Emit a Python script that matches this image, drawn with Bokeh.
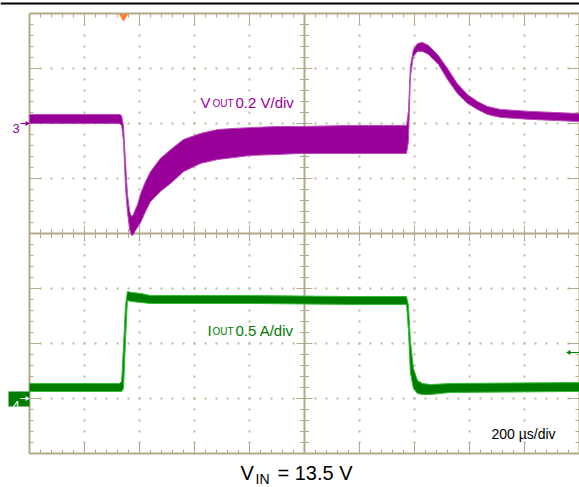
import numpy as np
from bokeh.plotting import figure
from bokeh.models import Range1d, Label
from bokeh.embed import file_html
from bokeh.resources import INLINE

# ---------------- data ----------------
# time in microseconds from the left edge of the screen (200 us/div, 10 div)
vout_t = [0, 327, 335, 342, 349, 356, 364, 371, 378, 385, 393, 404, 422, 440, 476,
          513, 560, 622, 684, 742, 804, 895, 985, 1167, 1371, 1378, 1385, 1396, 1411,
          1429, 1451, 1487, 1520, 1556, 1593, 1629, 1665, 1713, 1822, 2000]
# VOUT (AC, mV relative to the channel-3 marker), upper / lower edge of the noisy trace
vout_hi = [33, 33, 29, -11, -138, -255, -320, -338, -331, -313, -295, -255, -211, -175,
           -127, -95, -58, -36, -22, -18, -15, -11, -11, -7, -7, 44, 207, 269, 291, 295,
           284, 247, 200, 145, 105, 80, 62, 51, 44, 36]
vout_lo = [0, 0, -7, -65, -229, -320, -385, -407, -404, -389, -378, -360, -320, -284,
           -247, -218, -175, -145, -131, -124, -116, -113, -109, -109, -109, -65, 171,
           244, 262, 262, 251, 215, 160, 109, 73, 51, 33, 22, 15, 7]

iout_t = [0, 327, 335, 342, 349, 356, 371, 404, 440, 804, 1167, 1371, 1378, 1385,
          1396, 1411, 1429, 1458, 1531, 2000]
# IOUT (A relative to the channel-4 marker), upper / lower edge of the trace
iout_hi = [0.136, 0.136, 0.155, 0.482, 0.845, 0.973, 0.964, 0.955, 0.936, 0.936,
           0.927, 0.927, 0.845, 0.527, 0.273, 0.164, 0.136, 0.127, 0.136, 0.145]
iout_lo = [0.064, 0.064, 0.064, 0.091, 0.527, 0.891, 0.882, 0.873, 0.864, 0.864,
           0.855, 0.855, 0.618, 0.236, 0.091, 0.045, 0.036, 0.036, 0.055, 0.064]

time_per_div = 200      # us/div
vout_per_div = 200      # mV/div
iout_per_div = 0.5      # A/div
n_xdiv, n_ydiv = 10, 8
ch3_pos, ch4_pos = 6, 1  # marker positions in divisions
trig_t = 342             # trigger position (us)
trig_level = 0.418       # ch4 trigger level (A)

texts_vout = ["V", "OUT", "0.2 V/div"]
texts_iout = ["I", "OUT", "0.5 A/div"]
text_time = "200 \u00b5s/div"
texts_vin = ["V", "IN", "= 13.5 V"]

# ---------------- layout ----------------
W, H = 579, 487
OFF = 0
GX0, GY0, DIVPX = 29, 453, 55      # px of grid left/bottom, px per div
PURPLE, PURPLE_E = "#990099", "#b64cb6"
GREEN, GREEN_E = "#007d00", "#2fbf2f"
TAN, TAN_DOT = "#b2aa8a", "#bfb79c"
FONT = "Liberation Sans"

us_per_px = time_per_div / DIVPX
div_per_px = 1.0 / DIVPX

def wt(wx):  # picture x -> time
    return (wx - GX0) * us_per_px

def wd(wy):  # picture y -> divisions
    return (GY0 - wy) * div_per_px

x0, x1 = wt(OFF), wt(OFF + W)
y0, y1 = wd(OFF + H), wd(OFF)

p = figure(width=W, height=H, x_range=Range1d(x0, x1), y_range=Range1d(y0, y1),
           output_backend="svg", toolbar_location=None, min_border=0,
           x_axis_type=None, y_axis_type=None)
p.outline_line_color = None
p.background_fill_color = "white"
p.border_fill_color = "white"
p.extra_y_ranges = {
    "ch3": Range1d((y0 - ch3_pos) * vout_per_div, (y1 - ch3_pos) * vout_per_div),
    "ch4": Range1d((y0 - ch4_pos) * iout_per_div, (y1 - ch4_pos) * iout_per_div),
}

T_END = n_xdiv * time_per_div
minor_t = np.arange(0, T_END + 1, time_per_div / 5)
minor_d = np.arange(0, n_ydiv + 1e-9, 0.2)
maj_t = np.arange(time_per_div, T_END, time_per_div)
maj_d = np.arange(1, n_ydiv)
ct, cd = T_END / 2, n_ydiv / 2

# top black rule
p.segment([x0], [wd(3)], [x1], [wd(3)], line_color="black", line_width=2)

# dotted grid
dx, dy = [], []
for t in maj_t:
    if t == ct:
        continue
    for d in minor_d[1:-1]:
        dx.append(t); dy.append(d)
for d in maj_d:
    if d == cd:
        continue
    for t in minor_t[1:-1]:
        dx.append(t); dy.append(d)
p.scatter(dx, dy, marker="square", size=2, fill_color=TAN_DOT, line_color=None)

# ticks
sx0, sy0, sx1, sy1 = [], [], [], []
def is_major_d(d):
    return abs(d - round(d)) < 1e-6
def is_major_t(t):
    return abs(t / time_per_div - round(t / time_per_div)) < 1e-6

for d in minor_d[1:-1]:
    L = (11 if is_major_d(d) else 4) * us_per_px
    sx0 += [0, T_END]; sx1 += [L, T_END - L]; sy0 += [d, d]; sy1 += [d, d]
    Lc = (8 if is_major_d(d) else 4.5) * us_per_px
    sx0.append(ct - Lc); sx1.append(ct + Lc); sy0.append(d); sy1.append(d)
for t in minor_t[1:-1]:
    L = (11 if is_major_t(t) else 4) * div_per_px
    sx0 += [t, t]; sx1 += [t, t]; sy0 += [n_ydiv, 0]; sy1 += [n_ydiv - L, L]
    Lc = (8 if is_major_t(t) else 4.5) * div_per_px
    sx0.append(t); sx1.append(t); sy0.append(cd - Lc); sy1.append(cd + Lc)
p.segment(sx0, sy0, sx1, sy1, line_color=TAN, line_width=1)

# borders and centre axes
p.segment([0, T_END, 0, 0, ct, 0], [0, 0, 0, n_ydiv, 0, cd],
          [0, T_END, T_END, T_END, ct, T_END], [n_ydiv, n_ydiv, 0, n_ydiv, n_ydiv, cd],
          line_color=TAN, line_width=2)

# traces
p.varea(x=vout_t, y1=vout_lo, y2=vout_hi, fill_color=PURPLE, y_range_name="ch3")
p.line(vout_t, vout_hi, line_color=PURPLE_E, line_width=1, y_range_name="ch3")
p.line(vout_t, vout_lo, line_color=PURPLE_E, line_width=1, y_range_name="ch3")
p.varea(x=iout_t, y1=iout_lo, y2=iout_hi, fill_color=GREEN, y_range_name="ch4")
p.line(iout_t, iout_hi, line_color=GREEN_E, line_width=1, y_range_name="ch4")
p.line(iout_t, iout_lo, line_color=GREEN_E, line_width=1, y_range_name="ch4")

# trigger marker (top) and trigger level (right)
p.scatter([trig_t], [wd(16)], marker="inverted_triangle", size=9,
          fill_color="#ff7f2a", line_color=None)
tl = ch4_pos + trig_level / iout_per_div
p.segment([wt(568)], [tl], [wt(579)], [tl], line_color=GREEN, line_width=1)
p.scatter([wt(568.5)], [tl], marker="triangle", angle=np.pi / 2, size=5,
          fill_color=GREEN, line_color=None)

# channel markers
p.segment([wt(20)], [ch3_pos], [wt(26)], [ch3_pos], line_color=PURPLE, line_width=1)
p.scatter([wt(26.5)], [ch3_pos], marker="triangle", angle=-np.pi / 2, size=5,
          fill_color=PURPLE, line_color=None)
p.quad(left=[wt(8)], right=[0], bottom=[wd(406)], top=[wd(391)],
       fill_color=GREEN, line_color=None)
p.segment([wt(20)], [ch4_pos], [wt(26)], [ch4_pos], line_color="white", line_width=1)
p.scatter([wt(26.5)], [ch4_pos], marker="triangle", angle=-np.pi / 2, size=5,
          fill_color="white", line_color=None)

def txt(s, wx, wy, size, color, baseline="alphabetic"):
    p.add_layout(Label(x=wx - OFF, y=(OFF + H) - wy, x_units="screen", y_units="screen",
                       text=s, text_font=FONT, text_font_size=f"{size}px",
                       text_color=color, text_baseline=baseline, text_align="left"))

txt("3", 12, 128, 13, PURPLE)
txt("4", 12, 405, 13, "white")
txt(texts_vout[0], 200, 102, 15, PURPLE)
txt(texts_vout[1], 212, 103, 10, PURPLE)
txt(texts_vout[2], 235, 102, 15, PURPLE)
txt(texts_iout[0], 207, 330, 15, GREEN)
txt(texts_iout[1], 212, 331, 10, GREEN)
txt(texts_iout[2], 235, 330, 15, GREEN)
txt(text_time, 491, 433, 14, "black")
txt(texts_vin[0], 240, 483, 20, "black", baseline="bottom")
txt(texts_vin[1], 255, 486, 14, "black", baseline="bottom")
txt(texts_vin[2], 277, 483, 20, "black", baseline="bottom")

open("out.html", "w").write(file_html(p, INLINE))
